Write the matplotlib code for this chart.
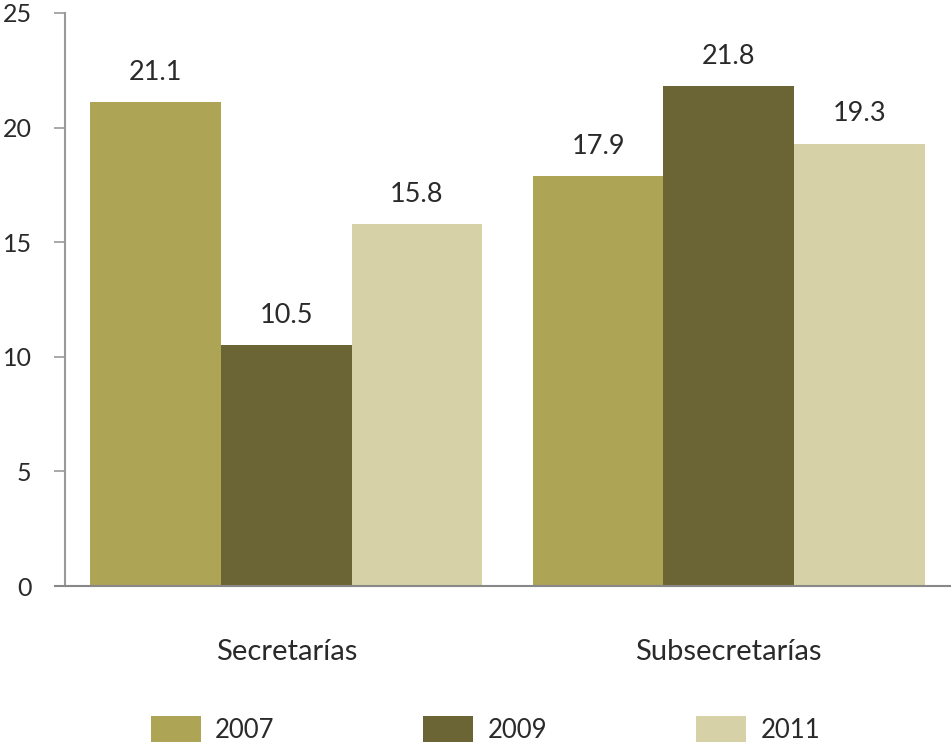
import matplotlib
matplotlib.use("Agg")
import matplotlib.pyplot as plt
import numpy as np

categories = ["Secretarías", "Subsecretarías"]
years = ["2007", "2009", "2011"]
values_2007 = [21.1, 17.9]
values_2009 = [10.5, 21.8]
values_2011 = [15.8, 19.3]
series = [values_2007, values_2009, values_2011]
colors = ["#ada455", "#6b6536", "#d6d1a6"]

plt.rcParams['font.family'] = ['Lato', 'DejaVu Sans']

fig = plt.figure(figsize=(9.53, 7.44), dpi=100)
ax = fig.add_axes([65/953, 1-586/744, (950-65)/953, (586-13)/744])

x = np.arange(len(categories))
w = 0.295
for i, (vals, col, yr) in enumerate(zip(series, colors, years)):
    pos = x + (i-1)*w
    ax.bar(pos, vals, width=w, color=col, label=yr)
    for p, v in zip(pos, vals):
        ax.text(p, v + 0.75, f"{v:.1f}", ha="center", va="bottom", fontsize=19.5, color="#2a2a2a")

ax.set_xlim(-0.5, 1.5)
ax.set_ylim(0, 25)
ax.set_yticks([0, 5, 10, 15, 20, 25])
ax.set_xticks(x)
ax.set_xticklabels(categories)
ax.tick_params(axis="x", length=0, pad=38, labelsize=21, colors="#2a2a2a")
ax.tick_params(axis="y", length=8, width=1.2, color="#999999", direction="out", pad=16, labelsize=18, labelcolor="#2a2a2a")
for s in ["top", "right"]:
    ax.spines[s].set_visible(False)
ax.spines["left"].set_color("#999999")
ax.spines["left"].set_linewidth(1.5)
ax.spines["bottom"].set_color("#888888")
ax.spines["bottom"].set_linewidth(1.5)
ax.spines["bottom"].set_bounds(-0.5 - 10/444, 1.5)

leg = ax.legend(loc="center", bbox_to_anchor=(0.475, -0.25), ncol=3, frameon=False,
                fontsize=18.5, handlelength=1.95, handleheight=1.2, columnspacing=5.8, handletextpad=0.55)
for t in leg.get_texts():
    t.set_color("#2a2a2a")

fig.savefig("out.png", dpi=100)
